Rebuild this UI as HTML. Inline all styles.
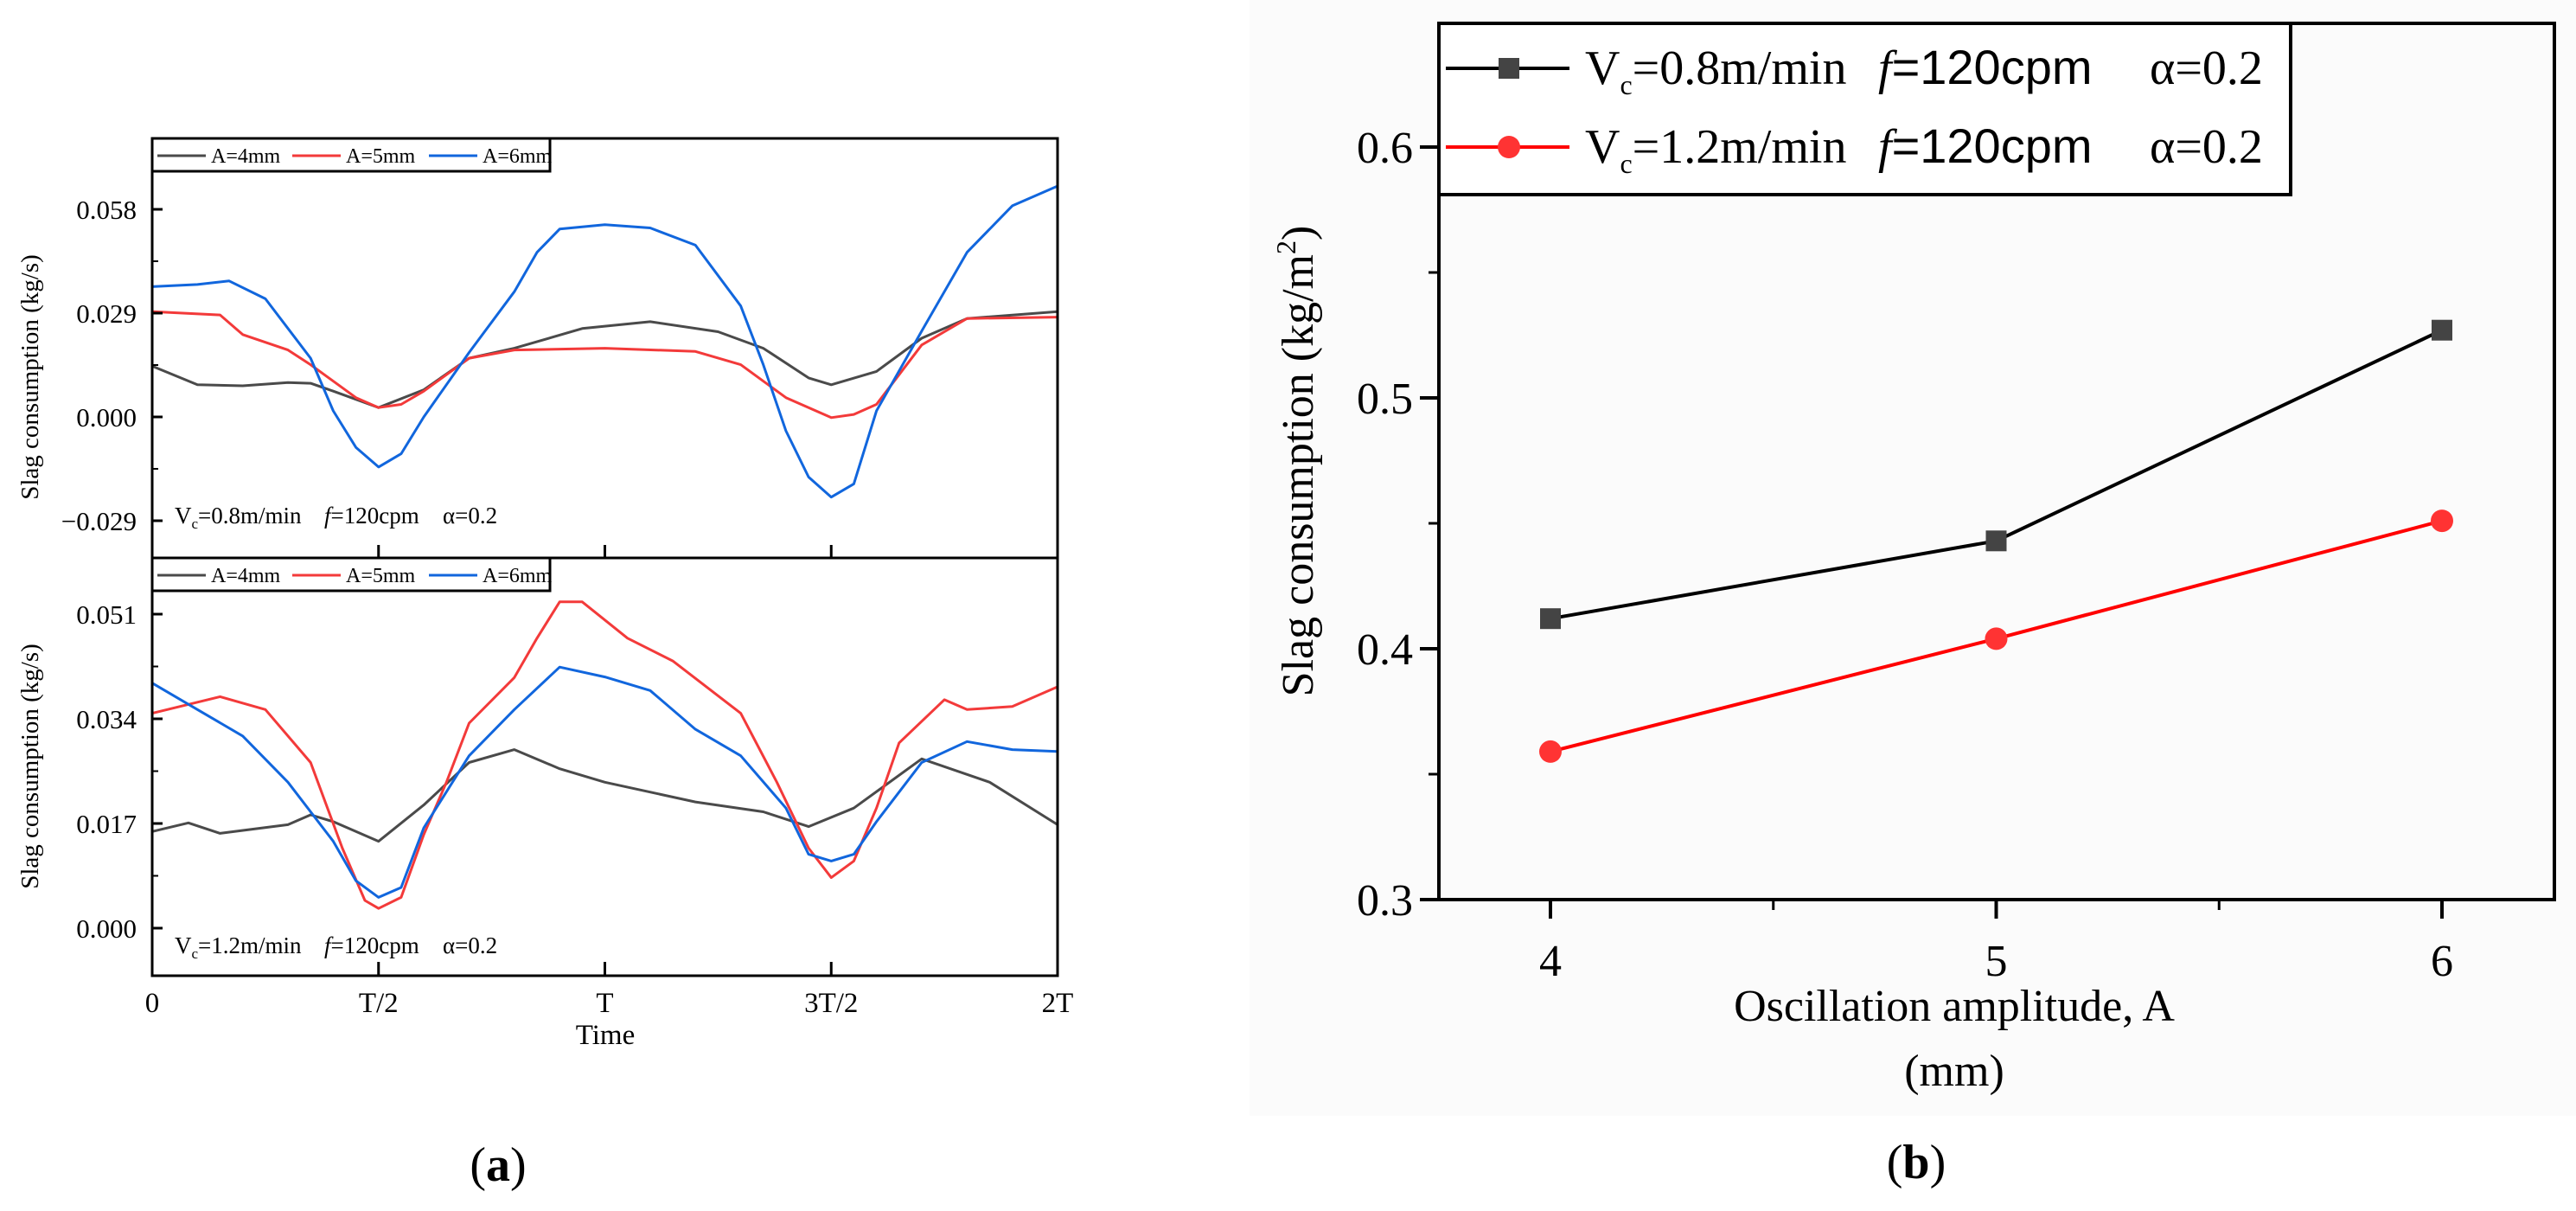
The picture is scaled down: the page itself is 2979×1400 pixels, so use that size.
<!DOCTYPE html>
<html><head><meta charset="utf-8">
<style>
html,body{margin:0;padding:0;background:#fff;}
svg{display:block;font-family:"Liberation Serif",serif;}
</style></head>
<body>
<svg id="fig" width="2979" height="1400" viewBox="0 0 2979 1400" xmlns="http://www.w3.org/2000/svg">
<rect x="0" y="0" width="2979" height="1400" fill="#fff"/>
<rect x="1445" y="0" width="1534" height="1290" fill="#fbfbfb"/>
<g id="pa"></g>
<g id="pb"></g>
<text x="576" y="1365" font-size="56" text-anchor="middle">(<tspan font-weight="bold">a</tspan>)</text>
<text x="2216" y="1362" font-size="56" text-anchor="middle">(<tspan font-weight="bold">b</tspan>)</text>
</svg>
<script>
// ---------- Panel (a) data ----------
const topX_A4 = [0,0.1,0.2,0.3,0.35,0.4,0.5,0.6,0.7,0.8,0.95,1.1,1.25,1.35,1.45,1.5,1.6,1.7,1.8,2.0];
const topY_A4 = [0.0142,0.009,0.0087,0.0096,0.0094,0.0072,0.0026,0.0076,0.0164,0.0192,0.0247,0.0266,0.0238,0.0192,0.0109,0.009,0.0127,0.022,0.0275,0.0294];
const topX_A5 = [0,0.15,0.2,0.3,0.35,0.45,0.5,0.55,0.6,0.7,0.8,1.0,1.2,1.3,1.4,1.5,1.55,1.6,1.7,1.8,2.0];
const topY_A5 = [0.0294,0.0285,0.023,0.0187,0.0146,0.0054,0.0026,0.0035,0.0072,0.0164,0.0187,0.0192,0.0183,0.0146,0.0054,-0.0002,0.0007,0.0035,0.0201,0.0275,0.0279];
const topX_A6 = [0,0.1,0.17,0.25,0.35,0.4,0.45,0.5,0.55,0.6,0.7,0.8,0.85,0.9,1.0,1.1,1.2,1.3,1.35,1.4,1.45,1.5,1.55,1.6,1.7,1.8,1.9,2.0];
const topY_A6 = [0.0364,0.037,0.038,0.033,0.0164,0.0017,-0.0085,-0.014,-0.0103,0,0.018,0.035,0.046,0.0525,0.0537,0.0528,0.048,0.031,0.0146,-0.0039,-0.0168,-0.0224,-0.0187,0.0017,0.024,0.046,0.059,0.0645];
const botX_A4 = [0,0.08,0.15,0.3,0.35,0.4,0.5,0.6,0.7,0.8,0.9,1.0,1.2,1.35,1.45,1.55,1.7,1.85,2.0];
const botY_A4 = [0.0157,0.0171,0.0154,0.0168,0.0184,0.0173,0.0141,0.02,0.0269,0.029,0.0259,0.0237,0.0205,0.0189,0.0165,0.0195,0.0275,0.0237,0.0168];
const botX_A5 = [0,0.15,0.25,0.35,0.42,0.47,0.5,0.55,0.6,0.65,0.7,0.8,0.85,0.9,0.95,1.05,1.15,1.3,1.38,1.45,1.5,1.55,1.6,1.65,1.75,1.8,1.9,2.0];
const botY_A5 = [0.0349,0.0376,0.0355,0.0269,0.013,0.0045,0.0032,0.005,0.0152,0.0237,0.0333,0.0407,0.0471,0.053,0.053,0.0471,0.0434,0.0349,0.0237,0.013,0.0082,0.0109,0.0195,0.0301,0.0371,0.0355,0.036,0.0392];
const botX_A6 = [0,0.1,0.2,0.3,0.4,0.45,0.5,0.55,0.6,0.7,0.8,0.9,1.0,1.1,1.2,1.3,1.4,1.45,1.5,1.55,1.6,1.7,1.8,1.9,2.0];
const botY_A6 = [0.0398,0.0355,0.0312,0.0237,0.0141,0.0077,0.005,0.0066,0.0163,0.028,0.0355,0.0424,0.0408,0.0386,0.0323,0.028,0.0195,0.012,0.0109,0.012,0.0173,0.0269,0.0303,0.029,0.0287];
const timeTicks = [0,0.5,1,1.5,2];
const timeLabels = ["0","T/2","T","3T/2","2T"];
const topTicks = [0.058,0.029,0,-0.029];
const topTickLabels = ["0.058","0.029","0.000","\u22120.029"];
const botTicks = [0.051,0.034,0.017,0];
const botTickLabels = ["0.051","0.034","0.017","0.000"];
// ---------- Panel (b) data ----------
const ampCats = [4,5,6];
const slag08 = [0.412,0.443,0.527];
const slag12 = [0.359,0.404,0.451];
const bYTicks = [0.3,0.4,0.5,0.6];
const bYLabels = ["0.3","0.4","0.5","0.6"];

const NS="http://www.w3.org/2000/svg";
function mk(tag, attrs, parent){const e=document.createElementNS(NS,tag);for(const k in attrs)e.setAttribute(k,attrs[k]);parent.appendChild(e);return e;}

const AX0=176, AX1=1223;
const ax = t => AX0 + (AX1-AX0)*t/2;
const topY = v => 482 - v/0.029*120;
const botY = v => 1073 - v/0.017*121;
const pa=document.getElementById('pa');
const colors={A4:"#4a4a4a",A5:"#f33a3a",A6:"#1166dd"};

function series(xs, ys, yf, color, name){
  const d = xs.map((x,i)=>(i?'L':'M')+ax(x).toFixed(1)+','+yf(ys[i]).toFixed(1)).join(' ');
  const p = mk('path',{d:d,fill:'none',stroke:color,'stroke-width':3,'stroke-linejoin':'round'},pa);
  
  
}
series(topX_A4,topY_A4,topY,colors.A4,'top-line-a4');
series(topX_A5,topY_A5,topY,colors.A5,'top-line-a5');
series(topX_A6,topY_A6,topY,colors.A6,'top-line-a6');
series(botX_A4,botY_A4,botY,colors.A4,'bottom-line-a4');
series(botX_A5,botY_A5,botY,colors.A5,'bottom-line-a5');
series(botX_A6,botY_A6,botY,colors.A6,'bottom-line-a6');

function frame(y0,y1,name){const r=mk('rect',{x:AX0,y:y0,width:AX1-AX0,height:y1-y0,fill:'none',stroke:'#000','stroke-width':3},pa);

}
frame(160,645,'top-plot-frame');
frame(645,1128,'bottom-plot-frame');

function yticks(ticks,labels,yf,prefix){
  ticks.forEach((v,i)=>{
    const y=yf(v);
    mk('line',{x1:AX0,x2:AX0+12,y1:y,y2:y,stroke:'#000','stroke-width':3},pa);
    if(i<ticks.length-1){const ym=(y+yf(ticks[i+1]))/2;mk('line',{x1:AX0,x2:AX0+7,y1:ym,y2:ym,stroke:'#000','stroke-width':2},pa);}
    const t=mk('text',{x:AX0-18,y:y+11,'font-size':31,'text-anchor':'end'},pa);t.textContent=labels[i];
    
    
  });
}
yticks(topTicks,topTickLabels,topY,'top-y');
yticks(botTicks,botTickLabels,botY,'bottom-y');

timeTicks.forEach((t,i)=>{
  const x=ax(t);
  if(i>0&&i<timeTicks.length-1){
    mk('line',{x1:x,x2:x,y1:1128,y2:1112,stroke:'#000','stroke-width':3},pa);
    mk('line',{x1:x,x2:x,y1:645,y2:630,stroke:'#000','stroke-width':3},pa);
  }
  const tx=mk('text',{x:x,y:1170,'font-size':33,'text-anchor':'middle'},pa);tx.textContent=timeLabels[i];
  
  
});
const tl=mk('text',{x:700,y:1207,'font-size':33,'text-anchor':'middle'},pa);tl.textContent='Time';



function ytitle(cy,name){const t=mk('text',{x:0,y:0,'font-size':29,'text-anchor':'middle',transform:`translate(44,${cy}) rotate(-90)`},pa);t.textContent='Slag consumption (kg/s)';

}
ytitle(436,'top-y-axis-title');
ytitle(886,'bottom-y-axis-title');

function legend(y0,name){
  const g=mk('g',{},pa);
  
  
  mk('rect',{x:AX0,y:y0,width:460,height:38,fill:'#fff',stroke:'#000','stroke-width':3},g);
  const cy=y0+20;
  [['A=4mm',colors.A4,182],['A=5mm',colors.A5,338],['A=6mm',colors.A6,496]].forEach(e=>{
    mk('line',{x1:e[2],x2:e[2]+56,y1:cy,y2:cy,stroke:e[1],'stroke-width':3},g);
    const t=mk('text',{x:e[2]+62,y:cy+8,'font-size':24},g);t.textContent=e[0];
  });
}
legend(160,'top-legend');
legend(645,'bottom-legend');

function annot(y,vc,name){
  const g=mk('g',{'font-size':27},pa);
  
  
  const a=mk('text',{x:202,y:y},g);
  a.innerHTML=`V<tspan font-size="17" dy="6">c</tspan><tspan dy="-6">=${vc}m/min</tspan>`;
  const b=mk('text',{x:375,y:y},g);
  b.innerHTML=`<tspan font-style="italic">f</tspan>=120cpm`;
  const c=mk('text',{x:512,y:y},g);
  c.textContent='α=0.2';
}
annot(605,'0.8','top-annotation');
annot(1102,'1.2','bottom-annotation');

// Panel b
const pb=document.getElementById('pb');
const BX0=1664,BX1=2954,BY0=27,BY1=1040;
const bx = a => 1793 + (a-4)*515.5;
const by = v => 1040 - (v-0.3)/0.1*290;
mk('rect',{x:BX0,y:BY0,width:BX1-BX0,height:BY1-BY0,fill:'none',stroke:'#000','stroke-width':4},pb);
bYTicks.forEach((v,i)=>{
  const y=by(v);
  mk('line',{x1:BX0-22,x2:BX0,y1:y,y2:y,stroke:'#000','stroke-width':4},pb);
  if(i<bYTicks.length-1){const ym=by(v+0.05);mk('line',{x1:BX0-12,x2:BX0,y1:ym,y2:ym,stroke:'#000','stroke-width':3},pb);}
  const t=mk('text',{x:BX0-30,y:y+18,'font-size':52,'text-anchor':'end'},pb);t.textContent=bYLabels[i];
  
  
});
ampCats.forEach((a,i)=>{
  const x=bx(a);
  mk('line',{x1:x,x2:x,y1:BY1,y2:BY1+22,stroke:'#000','stroke-width':4},pb);
  if(i<ampCats.length-1){const xm=bx(a+0.5);mk('line',{x1:xm,x2:xm,y1:BY1,y2:BY1+12,stroke:'#000','stroke-width':3},pb);}
  const t=mk('text',{x:x,y:1128,'font-size':52,'text-anchor':'middle'},pb);t.textContent=String(a);
  
  
});
const bxt=mk('text',{x:2260,y:1180,'font-size':52,'text-anchor':'middle'},pb);bxt.textContent='Oscillation amplitude, A';


const bxu=mk('text',{x:2260,y:1255,'font-size':52,'text-anchor':'middle'},pb);bxu.textContent='(mm)';


const byt=mk('text',{x:0,y:0,'font-size':52,'text-anchor':'middle',transform:'translate(1518,533) rotate(-90)'},pb);
byt.innerHTML='Slag consumption (kg/m<tspan font-size="32" dy="-20">2</tspan><tspan dy="20">)</tspan>';



const p08=mk('path',{d:ampCats.map((a,i)=>(i?'L':'M')+bx(a)+','+by(slag08[i])).join(' '),fill:'none',stroke:'#000','stroke-width':4},pb);


const p12=mk('path',{d:ampCats.map((a,i)=>(i?'L':'M')+bx(a)+','+by(slag12[i])).join(' '),fill:'none',stroke:'#f00','stroke-width':4},pb);


ampCats.forEach((a,i)=>{
  const s=mk('rect',{x:bx(a)-12,y:by(slag08[i])-12,width:24,height:24,fill:'#444'},pb);
  
  
  const c=mk('circle',{cx:bx(a),cy:by(slag12[i]),r:13,fill:'#f33'},pb);
  
  
});
const lg=mk('g',{},pb);


mk('rect',{x:BX0,y:BY0,width:985,height:198,fill:'#fff',stroke:'#000','stroke-width':4},lg);
[[79,'#000','0.8','sq'],[170,'#f00','1.2','ci']].forEach(e=>{
  mk('line',{x1:1672,x2:1815,y1:e[0],y2:e[0],stroke:e[1],'stroke-width':4},lg);
  if(e[3]==='sq')mk('rect',{x:1733,y:e[0]-12,width:24,height:24,fill:'#444'},lg);
  else mk('circle',{cx:1745,cy:e[0],r:13,fill:'#f33'},lg);
  const t1=mk('text',{x:1833,y:e[0]+18,'font-size':56},lg);
  t1.innerHTML=`V<tspan font-size="32" dy="12">c</tspan><tspan dy="-12">=${e[2]}m/min</tspan>`;
  const t2=mk('text',{x:2172,y:e[0]+18,'font-size':56},lg);
  t2.innerHTML=`<tspan font-style="italic">f</tspan><tspan font-family="Liberation Sans">=120cpm</tspan>`;
  const t3=mk('text',{x:2486,y:e[0]+18,'font-size':56},lg);
  t3.textContent='α=0.2';
});
</script>
</body></html>
